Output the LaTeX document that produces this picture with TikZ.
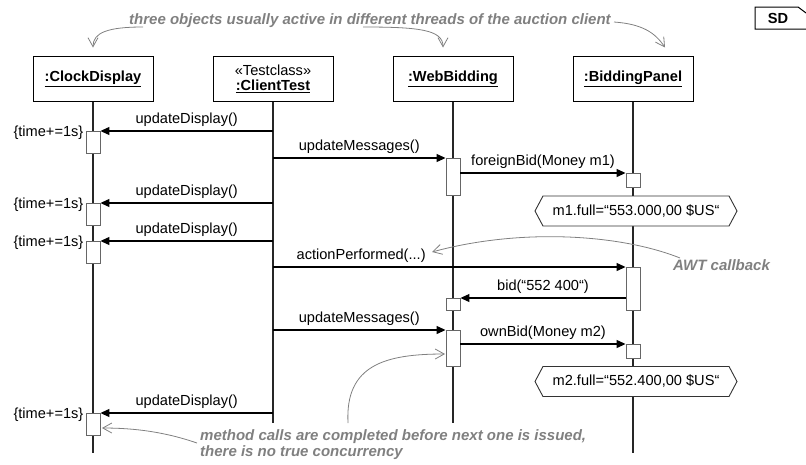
\documentclass[tikz,border=0pt]{standalone}
\usepackage{fontspec}
\setmainfont{Liberation Sans}
\usetikzlibrary{arrows.meta,positioning,calc,shapes.symbols}
\definecolor{remarkgray}{RGB}{128,128,128}

\begin{document}
\begin{tikzpicture}[x=1pt,y=-1pt]
\tikzset{objbox/.style={draw=black, line width=1pt, fill=white, align=center, minimum width=120pt, minimum height=45pt, inner sep=1pt, font=\fontsize{14.6}{17}\selectfont}, lifeline/.style={line width=1.2pt, black!85}, actbox/.style={draw=black!60, line width=0.9pt, fill=white, minimum width=14pt, inner sep=0pt, anchor=north}, msg/.style={-{Triangle[length=9pt,width=8pt]}, line width=1.2pt, black}, msglabel/.style={font=\fontsize{14.6}{17}\selectfont, above=2pt, inner sep=2pt}, ticklabel/.style={font=\fontsize{14.6}{17}\selectfont, anchor=east, inner sep=2pt}, notehex/.style={draw=black!80, line width=0.9pt, fill=white, signal, signal to=west and east, signal pointer angle=124, minimum width=202pt, minimum height=30pt, inner sep=0pt, font=\fontsize{14.6}{17}\selectfont}, remark/.style={font=\fontsize{15}{16}\selectfont\bfseries\itshape, text=remarkgray, align=left, inner sep=2pt}, remarkline/.style={remarkgray, line width=0.8pt, -{Straight Barb[length=9pt,width=10pt]}}}
\useasboundingbox (0,0) rectangle (806,464);
% objects
\node[objbox] (clk) at (93,78.5) {\underline{\textbf{:ClockDisplay}}};
\node[objbox, right=59pt of clk] (ct) {«Testclass»\\[-2pt]\underline{\textbf{:ClientTest}}};
\node[objbox, right=59pt of ct] (wb) {\underline{\textbf{:WebBidding}}};
\node[objbox, right=59pt of wb] (bp) {\underline{\textbf{:BiddingPanel}}};
\draw[lifeline] (clk.south) -- (clk |- 0,453);
\draw[lifeline] (ct.south) -- (ct |- 0,423);
\draw[lifeline] (wb.south) -- (wb |- 0,423);
\draw[lifeline] (bp.south) -- (bp |- 0,453);
% activations
\node[actbox, minimum height=22pt] (clkA) at (clk |- 0,131) {};
\node[actbox, minimum height=22pt] (clkB) at (clk |- 0,203) {};
\node[actbox, minimum height=22pt] (clkC) at (clk |- 0,241) {};
\node[actbox, minimum height=22pt] (clkD) at (clk |- 0,413) {};
\node[actbox, minimum height=37pt] (webA) at (wb |- 0,158) {};
\node[actbox, minimum height=12pt] (webB) at (wb |- 0,298) {};
\node[actbox, minimum height=36pt] (webC) at (wb |- 0,330) {};
\node[actbox, minimum height=14pt] (bpA) at (bp |- 0,173) {};
\node[actbox, minimum height=43pt] (bpB) at (bp |- 0,267) {};
\node[actbox, minimum height=14pt] (bpC) at (bp |- 0,344) {};
\foreach \a in {clkA,clkB,clkC,clkD}
  \node[ticklabel] at ([yshift=-2pt]\a.north west) {\{time+=1s\}};
\node[notehex] (noteA) at (636,211) {m1.full=“553.000,00 \$US“};
\node[notehex] (noteB) at (636,381.5) {m2.full=“552.400,00 \$US“};
% messages
\draw[msg] (ct |- clkA.north) -- node[msglabel]{updateDisplay()} (clkA.north east);
\draw[msg] (ct |- webA.north) -- node[msglabel]{updateMessages()} (webA.north west);
\draw[msg] (webA.east |- bpA.north) -- node[msglabel]{foreignBid(Money m1)} (bpA.north west);
\draw[msg] (ct |- clkB.north) -- node[msglabel]{updateDisplay()} (clkB.north east);
\draw[msg] (ct |- clkC.north) -- node[msglabel]{updateDisplay()} (clkC.north east);
\draw[msg] (ct |- bpB.north) -- node[msglabel, pos=0.25] (lblAct) {actionPerformed(...)} (bpB.north west);
\draw[msg] (bpB.west |- webB.north) -- node[msglabel]{bid(“552 400“)} (webB.north east);
\draw[msg] (ct |- webC.north) -- node[msglabel]{updateMessages()} (webC.north west);
\draw[msg] (webC.east |- bpC.north) -- node[msglabel]{ownBid(Money m2)} (bpC.north west);
\draw[msg] (ct |- clkD.north) -- node[msglabel]{updateDisplay()} (clkD.north east);
% remarks
\node[remark, anchor=west] (rmTop) at (127,21) {three objects usually active in different threads of the auction client};
\node[remark, anchor=west] (rmAwt) at (671,265) {AWT callback};
\node[remark, anchor=west] (rmSeq) at (198,445) {method calls are completed before next one is issued,\\there is no true concurrency};
\coordinate (thrA) at (143,27);
\coordinate (thrB) at (363,27);
\coordinate (thrC) at (614,22);
\coordinate (awtA) at (680,258);
\coordinate (awtTip) at (432,252);
\coordinate (seqA) at (197,443);
\coordinate (seqTip) at (102,428);
\coordinate (seqB) at (348,423);
\coordinate (seqTip2) at (445,354);
\draw[remarkline] (thrA) .. controls +(-35,0) and +(0,-15) .. ([yshift=8pt]clk.north);
\draw[remarkline] (thrB) .. controls +(55,0) and +(0,-18) .. ([xshift=-10pt,yshift=8pt]wb.north);
\draw[remarkline] (thrC) .. controls +(28,2) and +(-10,-15) .. ([xshift=32pt,yshift=8pt]bp.north);
\draw[remarkline] (awtA) .. controls (620,234) and (520,228) .. (awtTip);
\draw[remarkline] (seqA) .. controls (165,432) and (135,428) .. (seqTip);
\draw[remarkline] (seqB) .. controls (345,365) and (385,354) .. (seqTip2);
% frame tag
\node[font=\fontsize{14.6}{17}\selectfont\bfseries] (sd) at (778,18) {SD};
\draw[line width=1pt] (806,29) -- (755,29) -- (755,7) -- (798,7) -- (806,13);
\end{tikzpicture}
\end{document}
